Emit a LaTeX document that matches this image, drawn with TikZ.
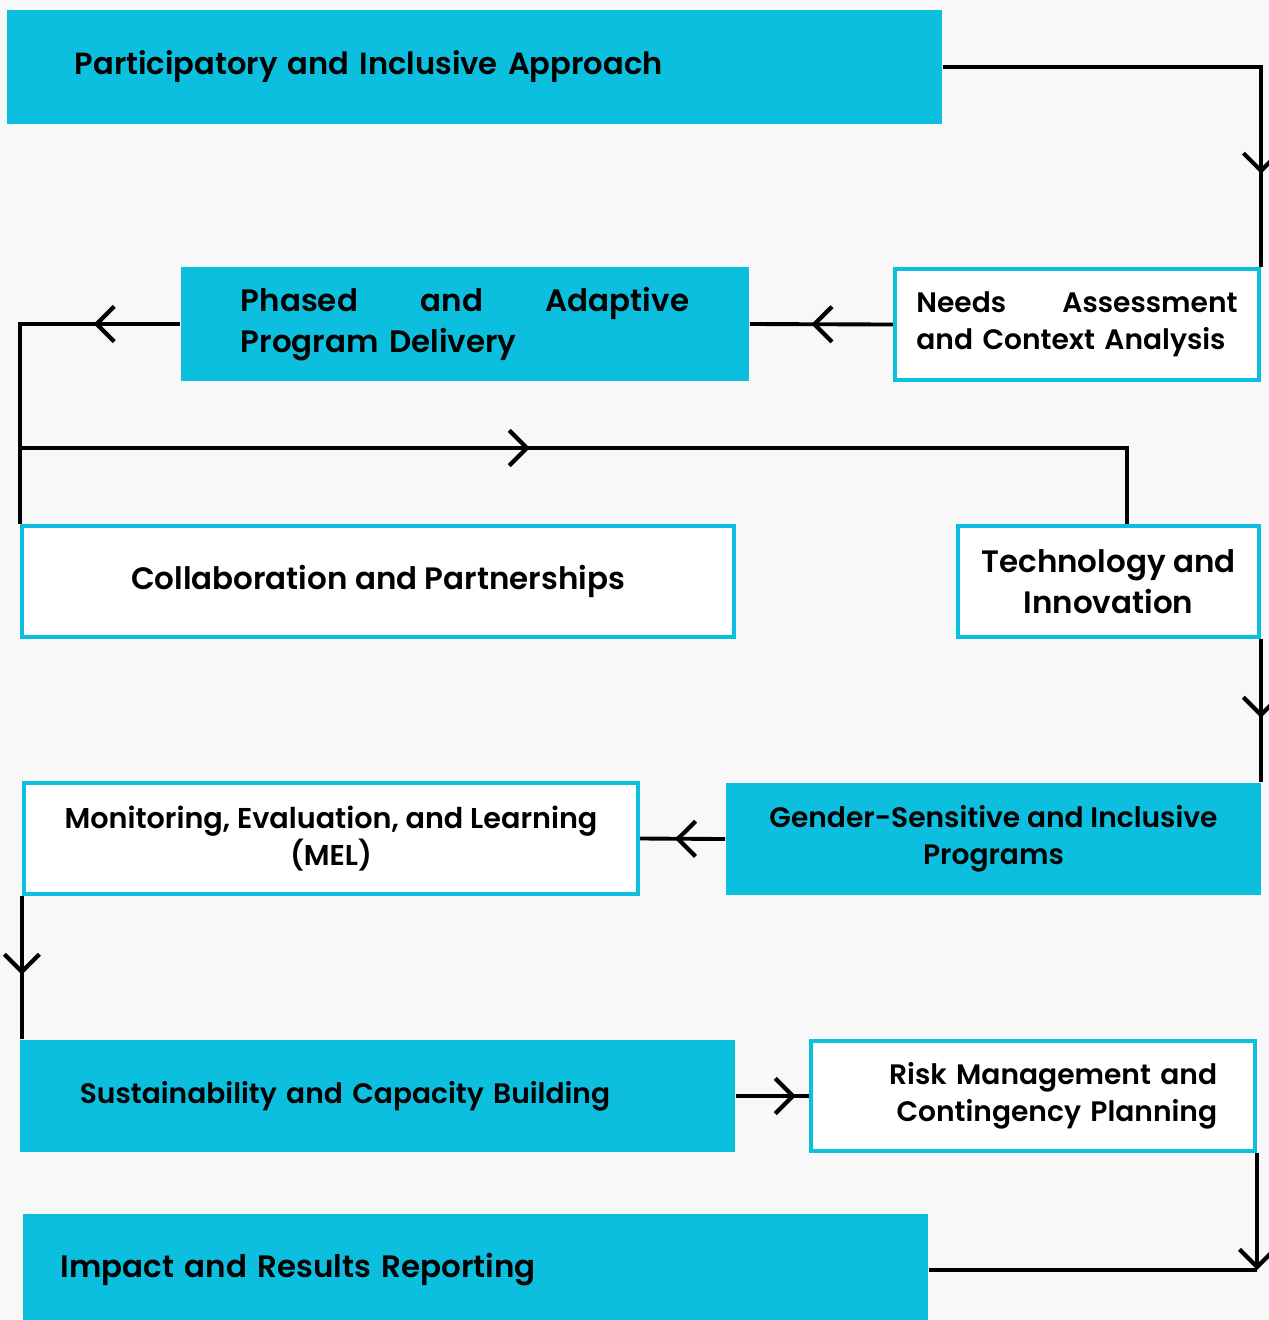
\documentclass[tikz,border=0pt]{standalone}
\usepackage{fontspec}
\setmainfont{Poppins}[BoldFont={Poppins SemiBold}]
\usetikzlibrary{arrows.meta,decorations.markings}
\definecolor{brand}{HTML}{0DBFDF}
\definecolor{paper}{HTML}{F8F8F8}
\begin{document}
\begin{tikzpicture}[x=0.01cm, y=-0.01cm]
  \tikzstyle{bigtxt}=[font=\bfseries\fontsize{8.8}{11.6}\selectfont]
  \tikzstyle{smalltxt}=[font=\bfseries\fontsize{8.0}{10.6}\selectfont]
  \tikzstyle{solidbox}=[fill=brand,inner sep=0pt]
  \tikzstyle{framebox}=[draw=brand,line width=1.1pt,fill=white,inner sep=0pt]
  \tikzstyle{link}=[line width=1.1pt,black]
  \tikzstyle{chevtip}=[-{Straight Barb[length=5pt,width=10pt,line width=1.2pt]}]
  \tikzstyle{chevron at}=[postaction={decorate},decoration={markings,mark=at position #1 with {\arrow{Straight Barb[length=5pt,width=10pt,line width=1.2pt]}}}]
  \fill[paper] (0,0) rectangle (1269,1320);
  \useasboundingbox (0,0) rectangle (1269,1320);
  \node[solidbox,bigtxt,font=\bfseries\fontsize{8.7}{11.6}\selectfont,minimum width=9.35cm,minimum height=1.14cm,text width=7.99cm,align=left] (part) at (474.5,67) {Participatory and Inclusive Approach};
  \node[solidbox,bigtxt,minimum width=5.68cm,minimum height=1.14cm,text width=4.48cm,align=left] (phased) at (465,324) {Phased\hfill and\hfill Adaptive\\Program Delivery};
  \node[framebox,smalltxt,minimum width=3.64cm,minimum height=1.11cm,text width=3.21cm,align=left] (needs) at (1077,324.5) {Needs\hfill Assessment\\and Context Analysis};
  \node[framebox,bigtxt,minimum width=7.12cm,minimum height=1.11cm,align=center] (collab) at (378,581.5) {Collaboration and Partnerships};
  \node[framebox,bigtxt,minimum width=3.01cm,minimum height=1.11cm,align=center] (tech) at (1108.5,581.5) {Technology and\\Innovation};
  \node[framebox,smalltxt,font=\bfseries\fontsize{8.15}{10.6}\selectfont,minimum width=6.14cm,minimum height=1.11cm,align=center] (mel) at (331,838.5) {Monitoring, Evaluation, and Learning\\(MEL)};
  \node[solidbox,smalltxt,minimum width=5.35cm,minimum height=1.12cm,align=center] (gender) at (993.5,839) {Gender-Sensitive and Inclusive\\Programs};
  \node[solidbox,smalltxt,minimum width=7.15cm,minimum height=1.12cm,text width=5.95cm,align=left] (sustain) at (377.5,1096) {Sustainability and Capacity Building};
  \node[framebox,smalltxt,minimum width=4.44cm,minimum height=1.10cm,text width=3.68cm,align=right] (risk) at (1033,1096) {Risk Management and\\Contingency Planning};
  \node[solidbox,bigtxt,minimum width=9.05cm,minimum height=1.12cm,text width=8.29cm,align=left] (impact) at (475.5,1270) {Impact and Results Reporting};
  \coordinate (split) at (22,448);
  \coordinate (riskcorner) at (risk.south east |- impact.east);
  \draw[link,chevron at=0.82] (part.east) -| (needs.north east);
  \draw[link,chevron at=0.57] (needs.west) -- (phased.east);
  \draw[link,chevron at=0.24] (phased.west) -| (collab.north west);
  \draw[link,chevron at=0.43] (split) -| ([xshift=0.185cm]tech.north);
  \draw[link,chevron at=0.55] (tech.south east) -- (tech.south east |- gender.north);
  \draw[link,chevron at=0.59] (gender.west) -- (mel.east);
  \draw[link,chevron at=0.55] (mel.south west) -- (mel.south west |- sustain.north);
  \draw[link,chevron at=0.82] (sustain.east) -- (risk.west);
  \draw[link] (riskcorner) -- (impact.east);
  \draw[link,chevtip] (risk.south east) -- (riskcorner);
\end{tikzpicture}
\end{document}
